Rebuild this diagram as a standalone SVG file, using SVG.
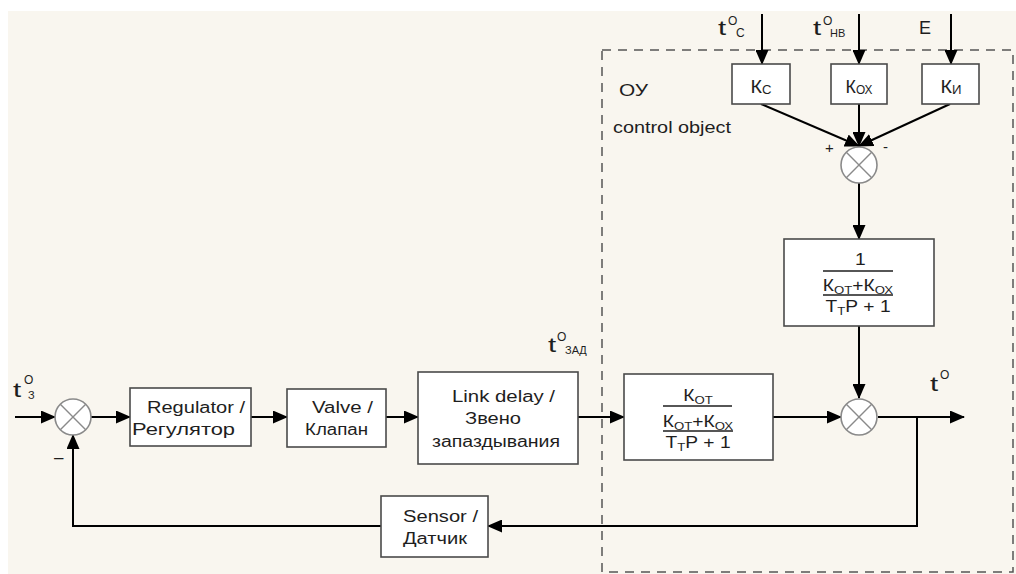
<svg xmlns="http://www.w3.org/2000/svg" width="1016" height="574" viewBox="0 0 1016 574">
<style>
text{font-family:"Liberation Sans",Arial,sans-serif;fill:#1e1e1e}
.blk{fill:#fff;stroke:#4a4a4a;stroke-width:1.6}
.t{font-size:16px}
.sub{font-size:11px}
.lbl{font-size:21px}
.sup{font-size:12px}
.fr{font-size:16px;text-anchor:middle}
.sum circle{fill:#fff;stroke:#8a8a8a;stroke-width:1.6}
.sum path{stroke:#8a8a8a;stroke-width:1.4;fill:none}
.bar{stroke:#1e1e1e;stroke-width:1.3}
.conn path{fill:none;stroke:#000;stroke-width:2}
.frame{fill:none;stroke:#555;stroke-width:1.5;stroke-dasharray:9 7}
</style>
<defs>
<marker id="ah" markerUnits="userSpaceOnUse" markerWidth="15" markerHeight="13" refX="14" refY="6.5" orient="auto">
<path d="M0,0 L15,6.5 L0,13 z" fill="#000"/>
</marker>
</defs>
<rect x="0" y="0" width="1016" height="574" fill="#fff"/>
<rect x="8" y="11" width="1008" height="563" fill="#f9f6ef"/>

<g id="control-object-frame">
<rect class="frame" x="602" y="50" width="411" height="522"/>
<text class="t" x="619" y="96" textLength="29" lengthAdjust="spacingAndGlyphs">ОУ</text>
<text class="t" x="613" y="133" textLength="118" lengthAdjust="spacingAndGlyphs">control object</text>
</g>

<g class="conn" id="connectors">
<path d="M15,417 L55,417" marker-end="url(#ah)"/>
<path d="M91,417 L130,417" marker-end="url(#ah)"/>
<path d="M251,417 L287,417" marker-end="url(#ah)"/>
<path d="M386,417 L418,417" marker-end="url(#ah)"/>
<path d="M578,417 L624,417" marker-end="url(#ah)"/>
<path d="M773,417 L841,417" marker-end="url(#ah)"/>
<path d="M878,417 L964,417" marker-end="url(#ah)"/>
<path d="M917,417 L917,526 L488,526" marker-end="url(#ah)"/>
<path d="M381,526 L73,526 L73,435" marker-end="url(#ah)"/>
<path d="M762,14 L762,64" marker-end="url(#ah)"/>
<path d="M859,14 L859,64" marker-end="url(#ah)"/>
<path d="M951,14 L951,64" marker-end="url(#ah)"/>
<path d="M761,104 L859,146" marker-end="url(#ah)"/>
<path d="M859,104 L859,146" marker-end="url(#ah)"/>
<path d="M950,104 L859,146" marker-end="url(#ah)"/>
<path d="M859,183 L859,239" marker-end="url(#ah)"/>
<path d="M859,326 L859,398" marker-end="url(#ah)"/>
</g>

<g id="sum1" class="sum">
<circle cx="73" cy="417" r="18"/>
<path d="M60.3,404.3 L85.7,429.7 M85.7,404.3 L60.3,429.7"/>
</g>
<g id="sum2" class="sum">
<circle cx="859" cy="165" r="18"/>
<path d="M846.3,152.3 L871.7,177.7 M871.7,152.3 L846.3,177.7"/>
</g>
<g id="sum3" class="sum">
<circle cx="859" cy="417" r="18"/>
<path d="M846.3,404.3 L871.7,429.7 M871.7,404.3 L846.3,429.7"/>
</g>

<g id="regulator">
<rect class="blk" x="130" y="388" width="121" height="58"/>
<text class="t" x="147" y="413" textLength="98" lengthAdjust="spacingAndGlyphs">Regulator /</text>
<text class="t" x="132" y="435" textLength="103" lengthAdjust="spacingAndGlyphs">Регулятор</text>
</g>

<g id="valve">
<rect class="blk" x="287" y="389" width="99" height="58"/>
<text class="t" x="312" y="413" textLength="61" lengthAdjust="spacingAndGlyphs">Valve /</text>
<text class="t" x="305" y="435" textLength="63" lengthAdjust="spacingAndGlyphs">Клапан</text>
</g>

<g id="link-delay">
<rect class="blk" x="418" y="372" width="160" height="92"/>
<text class="t" x="452" y="402" textLength="103" lengthAdjust="spacingAndGlyphs">Link delay /</text>
<text class="t" x="465" y="424" textLength="56" lengthAdjust="spacingAndGlyphs">Звено</text>
<text class="t" x="432" y="447" textLength="128" lengthAdjust="spacingAndGlyphs">запаздывания</text>
</g>

<g id="sensor">
<rect class="blk" x="381" y="496" width="107" height="61"/>
<text class="t" x="403" y="522" textLength="75" lengthAdjust="spacingAndGlyphs">Sensor /</text>
<text class="t" x="403" y="544" textLength="64" lengthAdjust="spacingAndGlyphs">Датчик</text>
</g>

<g id="plant-main">
<rect class="blk" x="624" y="374" width="149" height="86"/>
<line class="bar" x1="663" y1="406" x2="732" y2="406"/>
<line class="bar" x1="663" y1="431" x2="733" y2="431"/>
<g transform="translate(698,0) scale(1.2,1)">
<text class="fr" x="0" y="401">К<tspan class="sub" dy="3">ОТ</tspan></text>
<text class="fr" x="0" y="427">К<tspan class="sub" dy="3">ОТ</tspan><tspan dy="-3">+К</tspan><tspan class="sub" dy="3">ОХ</tspan></text>
<text class="fr" x="0" y="448">Т<tspan class="sub" dy="3">Т</tspan><tspan dy="-3">Р + 1</tspan></text>
</g>
</g>

<g id="plant-disturbance">
<rect class="blk" x="784" y="239" width="150" height="87"/>
<line class="bar" x1="823" y1="271" x2="893" y2="271"/>
<line class="bar" x1="823" y1="295" x2="893" y2="295"/>
<g transform="translate(858,0) scale(1.2,1)">
<text class="fr" x="2" y="265">1</text>
<text class="fr" x="0" y="291">К<tspan class="sub" dy="3">ОТ</tspan><tspan dy="-3">+К</tspan><tspan class="sub" dy="3">ОХ</tspan></text>
<text class="fr" x="0" y="312">Т<tspan class="sub" dy="3">Т</tspan><tspan dy="-3">Р + 1</tspan></text>
</g>
</g>

<g id="k-c">
<rect class="blk" x="732" y="64" width="58" height="40"/>
<text x="761" y="93" font-size="18" text-anchor="middle" textLength="21" lengthAdjust="spacingAndGlyphs">К<tspan font-size="12" dy="1">С</tspan></text>
</g>
<g id="k-ox">
<rect class="blk" x="831" y="64" width="56" height="40"/>
<text x="859" y="93" font-size="18" text-anchor="middle" textLength="27" lengthAdjust="spacingAndGlyphs">К<tspan font-size="12" dy="1">ОХ</tspan></text>
</g>
<g id="k-i">
<rect class="blk" x="922" y="64" width="57" height="40"/>
<text x="951" y="93" font-size="18" text-anchor="middle" textLength="21" lengthAdjust="spacingAndGlyphs">К<tspan font-size="12" dy="1">И</tspan></text>
</g>

<g id="labels">
<text class="lbl" transform="translate(718,35) scale(1.4,1)">t</text>
<text class="sup" x="728" y="25">O</text>
<text class="sup" x="736" y="37">С</text>
<text class="lbl" transform="translate(813,35) scale(1.4,1)">t</text>
<text class="sup" x="823" y="25">O</text>
<text class="sub" x="830" y="37">НВ</text>
<text x="919" y="34" font-size="18">E</text>
<text class="lbl" transform="translate(13,397) scale(1.4,1)">t</text>
<text class="sup" x="24" y="384">O</text>
<text class="sub" x="28" y="399">З</text>
<text class="lbl" transform="translate(548,352) scale(1.4,1)">t</text>
<text class="sup" x="557" y="341">O</text>
<text class="sub" x="565" y="354">ЗАД</text>
<text class="lbl" transform="translate(930,391) scale(1.4,1)">t</text>
<text class="sup" x="940" y="379">O</text>
<text x="825" y="153" font-size="15">+</text>
<text x="883" y="152" font-size="15">-</text>
<text x="54" y="463" font-size="17">–</text>
</g>
</svg>
